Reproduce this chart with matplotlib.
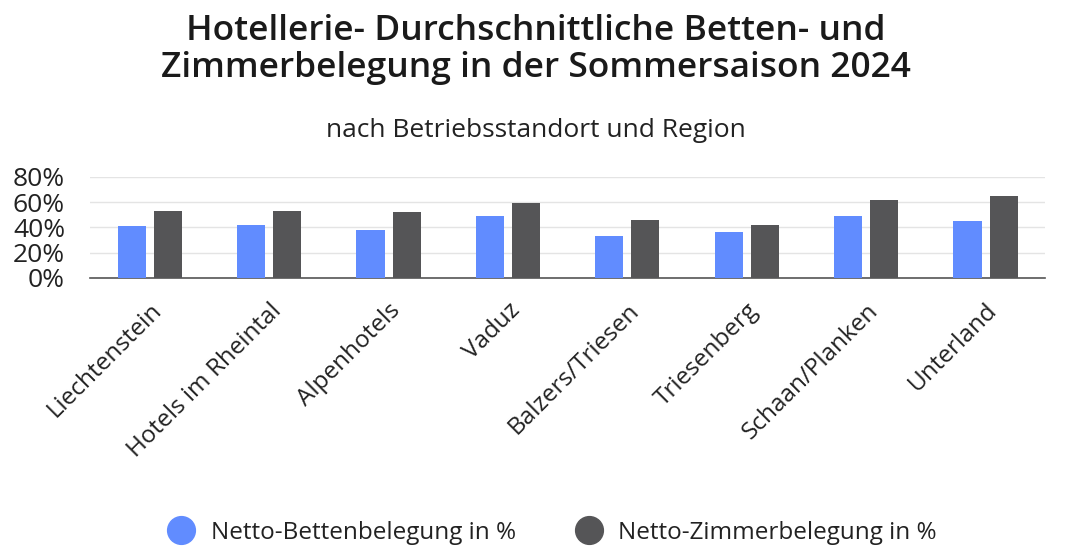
import matplotlib
matplotlib.use("Agg")
import matplotlib.pyplot as plt
import numpy as np
from matplotlib.lines import Line2D

categories = ["Liechtenstein", "Hotels im Rheintal", "Alpenhotels", "Vaduz",
              "Balzers/Triesen", "Triesenberg", "Schaan/Planken", "Unterland"]
betten = [41, 42, 38, 49, 33, 36, 49, 45]
zimmer = [53, 53, 52, 59, 46, 42, 62, 65]
series_names = ["Netto-Bettenbelegung in %", "Netto-Zimmerbelegung in %"]
yticks = [0, 20, 40, 60, 80]

plt.rcParams['font.family'] = ['Open Sans', 'DejaVu Sans']
c_blue = "#618cff"
c_dark = "#555557"
txt = "#222222"

fig = plt.figure(figsize=(10.72, 5.49), dpi=100)
ax = fig.add_axes([0.084, 0.494, 0.891, 0.184])

x = np.arange(len(categories))
w = 0.235
gap = 0.067
ax.bar(x - (w + gap) / 2, betten, width=w, color=c_blue, zorder=3)
ax.bar(x + (w + gap) / 2, zimmer, width=w, color=c_dark, zorder=3)

ax.set_xlim(-0.5, len(categories) - 0.5)
ax.set_ylim(0, 80)
ax.set_yticks(yticks)
ax.set_yticklabels([f"{v}%" for v in yticks], fontsize=19, color=txt)
ax.yaxis.grid(True, color="#e4e4e4", linewidth=1, zorder=0)
ax.set_xticks(x)
ax.set_xticklabels(categories, rotation=45, ha="right", rotation_mode="anchor",
                   fontsize=17.5, color=txt)
ax.tick_params(axis="both", length=0)
ax.tick_params(axis="x", pad=15)
ax.tick_params(axis="y", pad=18)
for s in ["top", "right", "left"]:
    ax.spines[s].set_visible(False)
ax.spines["bottom"].set_color("#555555")
ax.spines["bottom"].set_linewidth(1.2)

fig.text(0.5, 0.975, "Hotellerie- Durchschnittliche Betten- und\nZimmerbelegung in der Sommersaison 2024",
         ha="center", va="top", fontsize=25.5, fontweight="semibold", color="#1a1a1a",
         linespacing=1.12)
fig.text(0.5, 0.762, "nach Betriebsstandort und Region", ha="center", va="center",
         fontsize=19, color=txt)

handles = [Line2D([], [], marker="o", linestyle="", markersize=20, color=c_blue),
           Line2D([], [], marker="o", linestyle="", markersize=20, color=c_dark)]
fig.legend(handles, series_names, loc="center", bbox_to_anchor=(0.51, 0.03), ncol=2,
           frameon=False, fontsize=17.5, handletextpad=0.2, columnspacing=2.0,
           labelcolor=txt)

fig.savefig("out.png", dpi=100, facecolor="white")
